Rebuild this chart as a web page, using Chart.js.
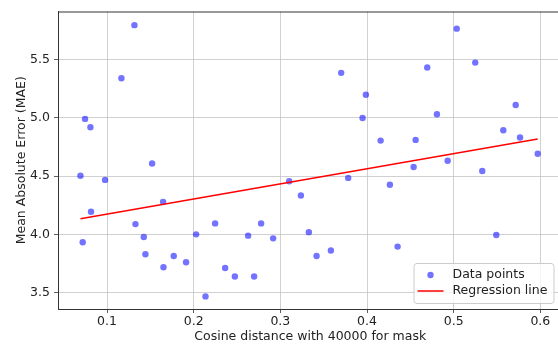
<!DOCTYPE html>
<html><head><meta charset="utf-8">
<script src="https://cdn.jsdelivr.net/npm/chart.js@4/dist/chart.umd.min.js"></script>
<style>
html,body{margin:0;padding:0;overflow:hidden;background:#fff;width:558px;height:345px}
#wrap{position:relative;width:570px;height:345px}
canvas{display:block}
</style>
</head><body><div id="wrap"><canvas id="c" width="570" height="345"></canvas></div>
<script>
// ---- data ----
const cosineDistance = [
  0.1316,0.1166,0.0746,0.0808,0.1520,0.0693,0.0977,0.5035,0.3702,0.5249,
  0.4695,0.3987,0.3949,0.5716,0.4807,0.4157,0.4561,0.5573,0.5766,0.5970,
  0.4538,0.4931,0.5330,0.3783,0.3102,0.3237,0.0815,0.1647,0.0719,0.1328,
  0.1424,0.1443,0.1651,0.1770,0.1912,0.2028,0.2136,0.2247,0.2363,0.2475,
  0.2628,0.2697,0.2778,0.2917,0.4264,0.3329,0.3418,0.3583,0.4353,0.5492
];
const mae = [
  5.795,5.340,4.991,4.920,4.609,4.504,4.468,5.765,5.386,5.474,
  5.432,5.198,4.999,5.110,5.031,4.805,4.811,4.894,4.831,4.692,
  4.578,4.632,4.544,4.485,4.456,4.334,4.195,4.280,3.933,4.089,
  3.978,3.830,3.719,3.816,3.762,4.001,3.469,4.095,3.713,3.640,
  3.990,3.640,4.095,3.967,4.427,4.020,3.816,3.862,3.896,3.995
];
const regressionX = [0.0693, 0.597];
const regressionY = [4.135, 4.818];
const xTickValues = [0.1, 0.2, 0.3, 0.4, 0.5, 0.6];
const xTickLabels = ['0.1', '0.2', '0.3', '0.4', '0.5', '0.6'];
const yTickValues = [3.5, 4.0, 4.5, 5.0, 5.5];
const yTickLabels = ['3.5', '4.0', '4.5', '5.0', '5.5'];
const seriesLabels = ['Data points', 'Regression line'];
const xAxisTitle = 'Cosine distance with 40000 for mask';
const yAxisTitle = 'Mean Absolute Error (MAE)';

const FONT = {family: '"DejaVu Sans", sans-serif', size: 12.5};
const TEXT = '#222';
const POINT_COLOR = 'rgba(0,0,255,0.55)';
const LINE_COLOR = '#ff0000';

const topSpine = {
  id: 'topSpine',
  afterDatasetsDraw(chart) {
    const a = chart.chartArea, ctx = chart.ctx;
    ctx.save();
    ctx.strokeStyle = '#333';
    ctx.lineWidth = 1;
    ctx.beginPath();
    ctx.moveTo(a.left, a.top + 0.5);
    ctx.lineTo(a.right, a.top + 0.5);
    ctx.stroke();
    ctx.restore();
  }
};

const innerLegend = {
  id: 'innerLegend',
  afterDraw(chart) {
    const a = chart.chartArea, ctx = chart.ctx;
    const right = a.right - 9, bottom = a.bottom - 6;
    const w = 140, h = 40;
    const x = right - w, y = bottom - h;
    ctx.save();
    ctx.beginPath();
    if (ctx.roundRect) ctx.roundRect(x + 0.5, y + 0.5, w, h, 3); else ctx.rect(x + 0.5, y + 0.5, w, h);
    ctx.fillStyle = 'rgba(255,255,255,0.8)';
    ctx.fill();
    ctx.strokeStyle = '#cccccc';
    ctx.lineWidth = 1;
    ctx.stroke();
    const ds = chart.data.datasets;
    const row1 = y + 12, row2 = y + 28;
    ctx.beginPath();
    ctx.arc(x + 17, row1, 3.2, 0, Math.PI * 2);
    ctx.fillStyle = ds[1].backgroundColor;
    ctx.fill();
    ctx.beginPath();
    ctx.moveTo(x + 4, row2);
    ctx.lineTo(x + 30, row2);
    ctx.strokeStyle = ds[0].borderColor;
    ctx.lineWidth = 1.5;
    ctx.stroke();
    ctx.fillStyle = TEXT;
    ctx.font = FONT.size + 'px ' + FONT.family;
    ctx.textBaseline = 'middle';
    ctx.textAlign = 'left';
    ctx.fillText(ds[1].label, x + 39, row1);
    ctx.fillText(ds[0].label, x + 39, row2);
    ctx.restore();
  }
};

new Chart(document.getElementById('c'), {
  data: {
    datasets: [
      {
        type: 'line',
        label: seriesLabels[1],
        data: regressionX.map((v, i) => ({x: v, y: regressionY[i]})),
        borderColor: LINE_COLOR,
        borderWidth: 1.5,
        pointRadius: 0,
        fill: false,
        order: 0
      },
      {
        type: 'scatter',
        label: seriesLabels[0],
        data: cosineDistance.map((v, i) => ({x: v, y: mae[i]})),
        backgroundColor: POINT_COLOR,
        borderWidth: 0,
        pointRadius: 3.2,
        order: 1
      }
    ]
  },
  options: {
    responsive: false,
    devicePixelRatio: 1,
    animation: false,
    layout: {padding: {top: 10, right: 7.5, bottom: 0, left: 0}},
    plugins: {legend: {display: false}, tooltip: {enabled: false}},
    scales: {
      x: {
        type: 'linear',
        min: 0.0434, max: 0.6256,
        afterBuildTicks: s => { s.ticks = xTickValues.map(v => ({value: v})); },
        afterFit: s => { s.height = 36; },
        ticks: {callback: (v, i) => xTickLabels[i], font: FONT, color: TEXT, padding: 1, maxRotation: 0, autoSkip: false},
        grid: {color: '#c4c4c4', lineWidth: 0.8, tickColor: '#333', tickLength: 4, drawTicks: true},
        border: {color: '#333', width: 1},
        title: {display: true, text: xAxisTitle, font: FONT, color: TEXT, padding: {top: 0, bottom: 1}}
      },
      y: {
        type: 'linear',
        min: 3.361, max: 5.912,
        afterBuildTicks: s => { s.ticks = yTickValues.map(v => ({value: v})); },
        afterFit: s => { s.width = 58; },
        ticks: {callback: (v, i) => yTickLabels[i], font: FONT, color: TEXT, padding: 4, autoSkip: false},
        grid: {color: '#c4c4c4', lineWidth: 0.8, tickColor: '#333', tickLength: 4, drawTicks: true},
        border: {color: '#333', width: 1},
        title: {display: true, text: yAxisTitle, font: FONT, color: TEXT, padding: {top: 14, bottom: 0}}
      }
    }
  },
  plugins: [topSpine, innerLegend]
});
</script>
</body></html>
